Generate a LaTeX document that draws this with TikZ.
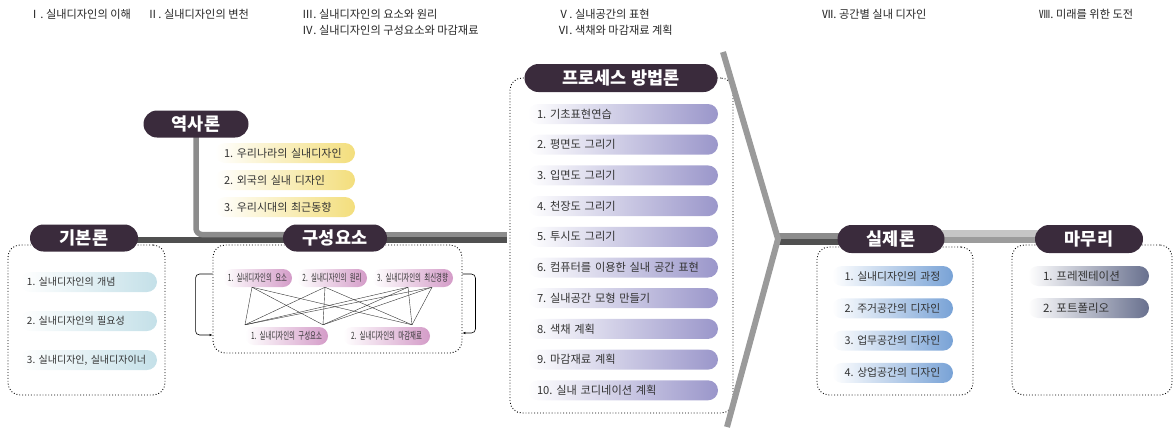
\documentclass[tikz,border=0pt]{standalone}
\usepackage{fontspec}
\setmainfont{Noto Sans CJK KR}
\newfontfamily\krnarrow[FakeStretch=0.64]{Noto Sans CJK KR}
\usetikzlibrary{shapes.misc,backgrounds,arrows.meta}

\definecolor{headc}{HTML}{3A2B3C}
\definecolor{txtc}{HTML}{333333}
\definecolor{kcol}{HTML}{C4E0E8}
\definecolor{ycol}{HTML}{F3DE7C}
\definecolor{pcol}{HTML}{D49CC8}
\definecolor{vcol}{HTML}{9A96CA}
\definecolor{scol}{HTML}{78A2D6}
\definecolor{mcol}{HTML}{68708E}
\definecolor{barlight}{HTML}{8C8C8C}
\definecolor{bardark}{HTML}{505050}
\definecolor{barpale}{HTML}{C6C6C6}
\definecolor{barmid}{HTML}{9C9C9C}
\definecolor{chevc}{HTML}{9A9A9A}
\frenchspacing

\begin{document}
\begin{tikzpicture}[x=1pt, y=-1pt,
	head/.style={rounded rectangle, fill=headc, text=white, inner sep=0pt, minimum height=27pt, font=\bfseries\fontsize{17.5}{18}\selectfont},
	dotbox/.style={draw, dotted, line width=0.9pt, rounded corners=12pt, inner sep=0pt},
	item/.style={rectangle, rounded corners=10pt, minimum height=20pt, inner ysep=0pt, text=txtc, font=\fontsize{11.2}{12}\selectfont},
	kitem/.style={item, left color=white, right color=kcol, inner xsep=7pt, text width=123pt, align=left, font=\fontsize{10}{12}\selectfont},
	yitem/.style={item, left color=white, right color=ycol, inner xsep=9pt, text width=122pt, align=left, font=\fontsize{11}{12}\selectfont},
	vitem/.style={item, left color=white, right color=vcol, inner xsep=9pt, text width=172pt, align=left},
	sitem/.style={item, left color=white, right color=scol, inner xsep=5pt, text width=111pt, align=center, font=\fontsize{10.8}{12}\selectfont},
	mitem/.style={item, left color=white, right color=mcol, inner xsep=15pt, text width=91pt, align=left, font=\fontsize{11.5}{12}\selectfont},
	pitem/.style={item, left color=white, right color=pcol, rounded corners=9pt, minimum height=18pt, inner xsep=3pt, align=center, font=\krnarrow\fontsize{10}{11}\selectfont},
	sec/.style={anchor=west, inner sep=0pt, text=black!85, font=\fontsize{11.2}{12}\selectfont},
	lightbar/.style={line width=5.5pt, barlight},
	darkbar/.style={line width=5.5pt, bardark}]
	\useasboundingbox (0,0) rectangle (1175,429);
	% Chapter titles:
	\node[sec] (sec1) at (29,14) {Ⅰ. 실내디자인의 이해};
	\node[sec] (sec2) at (147,14) {Ⅱ. 실내디자인의 변천};
	\node[sec] (sec3) at (302,14) {Ⅲ. 실내디자인의 요소와 원리};
	\node[sec] (sec4) at (302,30) {Ⅳ. 실내디자인의 구성요소와 마감재료};
	\node[sec] (sec5) at (558,14) {Ⅴ. 실내공간의 표현};
	\node[sec] (sec6) at (558,30) {Ⅵ. 색채와 마감재료 계획};
	\node[sec] (sec7) at (822,14) {Ⅶ. 공간별 실내 디자인};
	\node[sec] (sec8) at (1039,14) {Ⅷ. 미래를 위한 도전};
	% Dotted frames:
	\node[dotbox, minimum width=157pt, minimum height=150pt] (gibonbox) at (86.5,320) {};
	\node[dotbox, minimum width=249pt, minimum height=108pt] (gubox) at (337.5,299) {};
	\node[dotbox, minimum width=223pt, minimum height=335pt] (procbox) at (621.5,245.5) {};
	\node[dotbox, minimum width=156pt, minimum height=148pt] (silbox) at (895,321) {};
	\node[dotbox, minimum width=160pt, minimum height=150pt] (mamubox) at (1092,320) {};
	% Headings:
	\node[head, minimum width=105pt] (yeok) at (196,124) {역사론};
	\node[head, minimum width=108pt] (gibon) at (84,238) {기본론};
	\node[head, minimum width=104pt] (gu) at (335,238) {구성요소};
	\node[head, minimum width=193pt, minimum height=28pt] (proc) at (621,78) {프로세스 방법론};
	\node[head, minimum width=107pt, minimum height=28pt] (sil) at (891,239) {실제론};
	\node[head, minimum width=108pt, minimum height=28pt] (mamu) at (1089,239) {마무리};
	% Items:
	\foreach \t [count=\i] in {우리나라의 실내디자인, 외국의 실내 디자인, 우리시대의 최근동향}
		\node[yitem] (h\i) at (285,{153+27*(\i-1)}) {\mbox{\i. \t}};
	\foreach \t [count=\i] in {실내디자인의 개념, 실내디자인의 필요성}
		\node[kitem] (k\i) at (88.5,{282+39*(\i-1)}) {\mbox{\i. \t}};
	\node[kitem] (k3) at (88.5,360) {\mbox{3. 실내디자인, 실내디자이너}};
	\foreach \t [count=\i] in {기초표현연습, 평면도 그리기, 입면도 그리기, 천장도 그리기, 투시도 그리기, 컴퓨터를 이용한 실내 공간 표현, 실내공간 모형 만들기, 색채 계획, 마감재료 계획, 실내 코디네이션 계획}
		\node[vitem] (p\i) at (623,{114+30.7*(\i-1)}) {\mbox{\i. \t}};
	\foreach \t [count=\i] in {실내디자인의 과정, 주거공간의 디자인, 업무공간의 디자인, 상업공간의 디자인}
		\node[sitem] (s\i) at (892.5,{276+32.3*(\i-1)}) {\mbox{\i. \t}};
	\foreach \t [count=\i] in {프레젠테이션, 포트폴리오}
		\node[mitem] (m\i) at (1088.5,{276+32*(\i-1)}) {\mbox{\i. \t}};
	\node[pitem, text width=63pt] (c1) at (257.5,278) {\mbox{1. 실내디자인의 요소}};
	\node[pitem, text width=64pt] (c2) at (332,278) {\mbox{2. 실내디자인의 원리}};
	\node[pitem, text width=75pt] (c3) at (412.5,278) {\mbox{3. 실내디자인의 최신경향}};
	\node[pitem, text width=77pt] (d1) at (286.5,336) {\mbox{1. 실내디자인의 구성요소}};
	\node[pitem, text width=81pt] (d2) at (386.5,336) {\mbox{2. 실내디자인의 마감재료}};
	% Wires between the elements:
	\coordinate (t1) at ([xshift=-5.5pt]c1.south);
	\coordinate (t2) at ([xshift=-7pt]c2.south);
	\coordinate (t3) at ([xshift=-4.5pt]c3.south);
	\coordinate (t4) at ([xshift=19.5pt]c3.south);
	\coordinate (b1) at ([xshift=-41.5pt,yshift=2pt]d1.north);
	\coordinate (b2) at ([xshift=36.5pt,yshift=2pt]d1.north);
	\coordinate (b3) at ([xshift=25.5pt,yshift=2pt]d2.north);
	\foreach \a in {t1,t2,t3,t4}
		\foreach \b in {b1,b2,b3}
			\draw[line width=0.4pt, black!80] (\a) -- (\b);
	\draw[-{Latex[length=3pt,width=2.5pt]}, rounded corners=4pt, line width=0.6pt] ([yshift=25pt]gubox.west) -- ++(-17,0) |- ([yshift=-36pt]gubox.west);
	\draw[-{Latex[length=3pt,width=2.5pt]}, rounded corners=4pt, line width=0.6pt] ([yshift=25pt]gubox.east) -- ++(13,0) |- ([yshift=-34pt]gubox.east);
	% Main bars:
	\coordinate (barend) at (507,238);
	\coordinate (tip) at (778,239);
	\begin{scope}[on background layer]
		\draw[darkbar] ([yshift=-2pt]gibon.center) -- ([yshift=-2pt]gu.center);
		\draw[lightbar, rounded corners=6pt] (yeok.center) |- ([yshift=3.5pt]gu.center);
		\draw[lightbar] ([yshift=3.5pt]gu.center) -- ([yshift=3.5pt]barend);
		\draw[darkbar] ([yshift=-2pt]gu.center) -- ([yshift=-2pt]barend);
		\draw[line width=6pt, barlight] ([yshift=3pt]tip) -- ([yshift=3pt]sil.center);
		\draw[line width=6pt, bardark] ([yshift=-3pt]tip) -- ([yshift=-3pt]sil.center);
		\draw[line width=6.5pt, barpale] ([yshift=5.5pt]sil.center) -- ([yshift=5.5pt]mamu.center);
		\draw[line width=6.5pt, barmid] ([yshift=-1pt]sil.center) -- ([yshift=-1pt]mamu.center);
	\end{scope}
	\draw[line width=6pt, chevc, line join=miter] (723,52) -- (tip) -- (727,427);
\end{tikzpicture}
\end{document}
